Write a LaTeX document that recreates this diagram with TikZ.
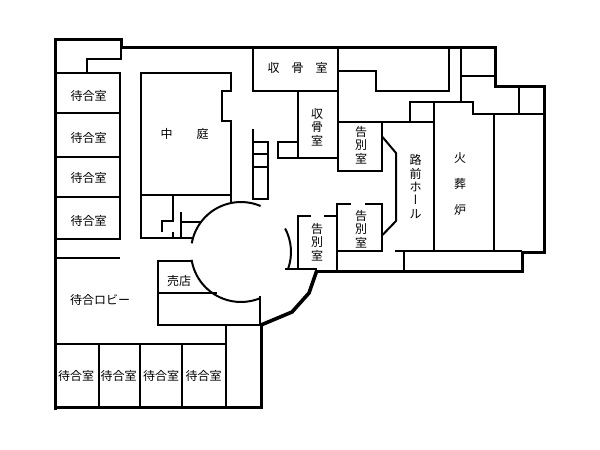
\documentclass[tikz,border=0pt]{standalone}
\usepackage{fontspec}
\setmainfont{Noto Sans CJK JP}
\newfontfamily\jpvert[RawFeature={+vert}]{Noto Sans CJK JP}

\tikzset{
  wall/.style={line width=3pt},
  thickwall/.style={line width=3.6pt},
  partition/.style={line width=2pt},
  room/.style={inner sep=0pt,align=center,font=\fontsize{12}{13.4}\selectfont},
}

\begin{document}
\begin{tikzpicture}[x=1pt,y=-1pt]

  \useasboundingbox (0,0) rectangle (600,450);

  % outer walls
  \draw [wall] (55.5,410) -- (55.5,39.5) -- (121.5,39.5) -- (121.5,47.5) -- (495.5,47.5) -- (495.5,86.5) -- (544.5,86.5) -- (544.5,252.5) -- (522.5,252.5) -- (522.5,271.5) -- (317,271.5);
  \draw [thickwall] (317,270) -- (309,293) -- (292,312) -- (261,325);
  \draw [wall] (261.5,325) -- (261.5,407.5) -- (55.5,407.5);

  % waiting rooms, left
  \draw [partition] (121,47) -- (121,59) -- (87,59) -- (87,73);
  \draw [partition] (55,73) -- (120,73) -- (120,239) -- (55,239);
  \draw [partition] (55,113) -- (120,113);
  \draw [partition] (55,157) -- (120,157);
  \draw [partition] (55,197) -- (120,197);
  \draw [partition] (55,258) -- (120,258);

  % courtyard
  \draw [partition] (193,238) -- (141,238) -- (141,73) -- (231,73) -- (231,91) -- (222,91) -- (222,121) -- (231,121) -- (231,204);
  \draw [partition] (141,195) -- (231,195);
  \draw [partition] (173,195) -- (173,221) -- (162,221) -- (162,232);
  \draw [partition] (173,232) -- (173,238);
  \draw [partition] (181,212) -- (181,238);
  \draw [partition] (181,222) -- (202,222);

  % round hall
  \coordinate (hall) at (241,252);
  \draw [partition] (hall) ++(-170:50) arc [start angle=-170,end angle=-67,radius=50];
  \draw [partition] (hall) ++(171:50) arc [start angle=171,end angle=67,radius=50];
  \draw [partition] (hall) ++(-28:50) arc [start angle=-28,end angle=19,radius=50];

  % shop
  \draw [partition] (192,261) -- (158,261) -- (158,325) -- (261,325);
  \draw [partition] (158,293) -- (217,293);
  \draw [partition] (260,296) -- (260,325);

  % waiting rooms, bottom
  \draw [partition] (55,344) -- (226,344);
  \draw [partition] (226,325) -- (226,408);
  \draw [partition] (99,344) -- (99,408);
  \draw [partition] (140,344) -- (140,408);
  \draw [partition] (182,344) -- (182,408);

  % stairs
  \draw [partition] (253,129) -- (253,199) -- (268,199) -- (268,142) -- (253,142);
  \draw [partition] (253,154) -- (268,154);
  \draw [partition] (253,167) -- (268,167);

  % upper rooms
  \draw [partition] (253,47) -- (253,91) -- (338,91);
  \draw [partition] (298,91) -- (298,158);
  \draw [partition] (298,142) -- (278,142) -- (278,158) -- (338,158);
  \draw [partition] (338,47) -- (338,171) -- (382,171) -- (382,122);
  \draw [partition] (338,71) -- (376,71) -- (376,91) -- (449,91) -- (449,47);
  \draw [partition] (338,122) -- (434,122);
  \draw [partition] (410,122) -- (410,102) -- (473,102) -- (473,114) -- (544,114);
  \draw [partition] (461,47) -- (461,102);
  \draw [partition] (461,76) -- (495,76);
  \draw [partition] (519,86) -- (519,114);

  % hall and cremators
  \draw [partition] (434,102) -- (434,251);
  \draw [partition] (494,114) -- (494,251);
  \draw [partition] (395,251) -- (522,251);
  \draw [partition] (404,251) -- (404,271);
  \draw [partition] (382.5,137) -- (396,153) -- (396,221) -- (382.5,235);

  % farewell rooms
  \draw [partition] (351,204) -- (337,204) -- (337,271);
  \draw [partition] (365,204) -- (382,204) -- (382,251) -- (337,251);
  \draw [partition] (311,216) -- (298,216) -- (298,268);
  \draw [partition] (324,216) -- (337,216);
  \draw [partition] (285,269) -- (317,269);

  % labels
  \node [room] (waitA) at (88.5,95.5) {待合室};
  \node [room] (waitB) at (88.5,137.5) {待合室};
  \node [room] (waitC) at (88.5,178) {待合室};
  \node [room] (waitD) at (88.5,220.5) {待合室};
  \node [room] (waitE) at (76,376) {待合室};
  \node [room] (waitF) at (118.5,376) {待合室};
  \node [room] (waitG) at (161,376) {待合室};
  \node [room] (waitH) at (203.5,376) {待合室};
  \node [room] (lobby) at (100,300) {待合ロビー};
  \node [room] (shop) at (179,280.5) {売店};
  \node [room] (court) at (184.5,134) {中　　庭};
  \node [room] (boneA) at (297.5,68) {収　骨　室};
  \node [room] (boneB) at (317,127) {収\\骨\\室};
  \node [room] (partA) at (361,145) {告\\別\\室};
  \node [room] (partB) at (361,229) {告\\別\\室};
  \node [room] (partC) at (317,242) {告\\別\\室};
  \node [room] (front) at (415.5,186.5) {路\\前\\ホ\\{\jpvert ー}\\ル};
  \node [room] (furnace) at (460,184) {火\\[12.6pt]葬\\[12.6pt]炉};

\end{tikzpicture}
\end{document}
